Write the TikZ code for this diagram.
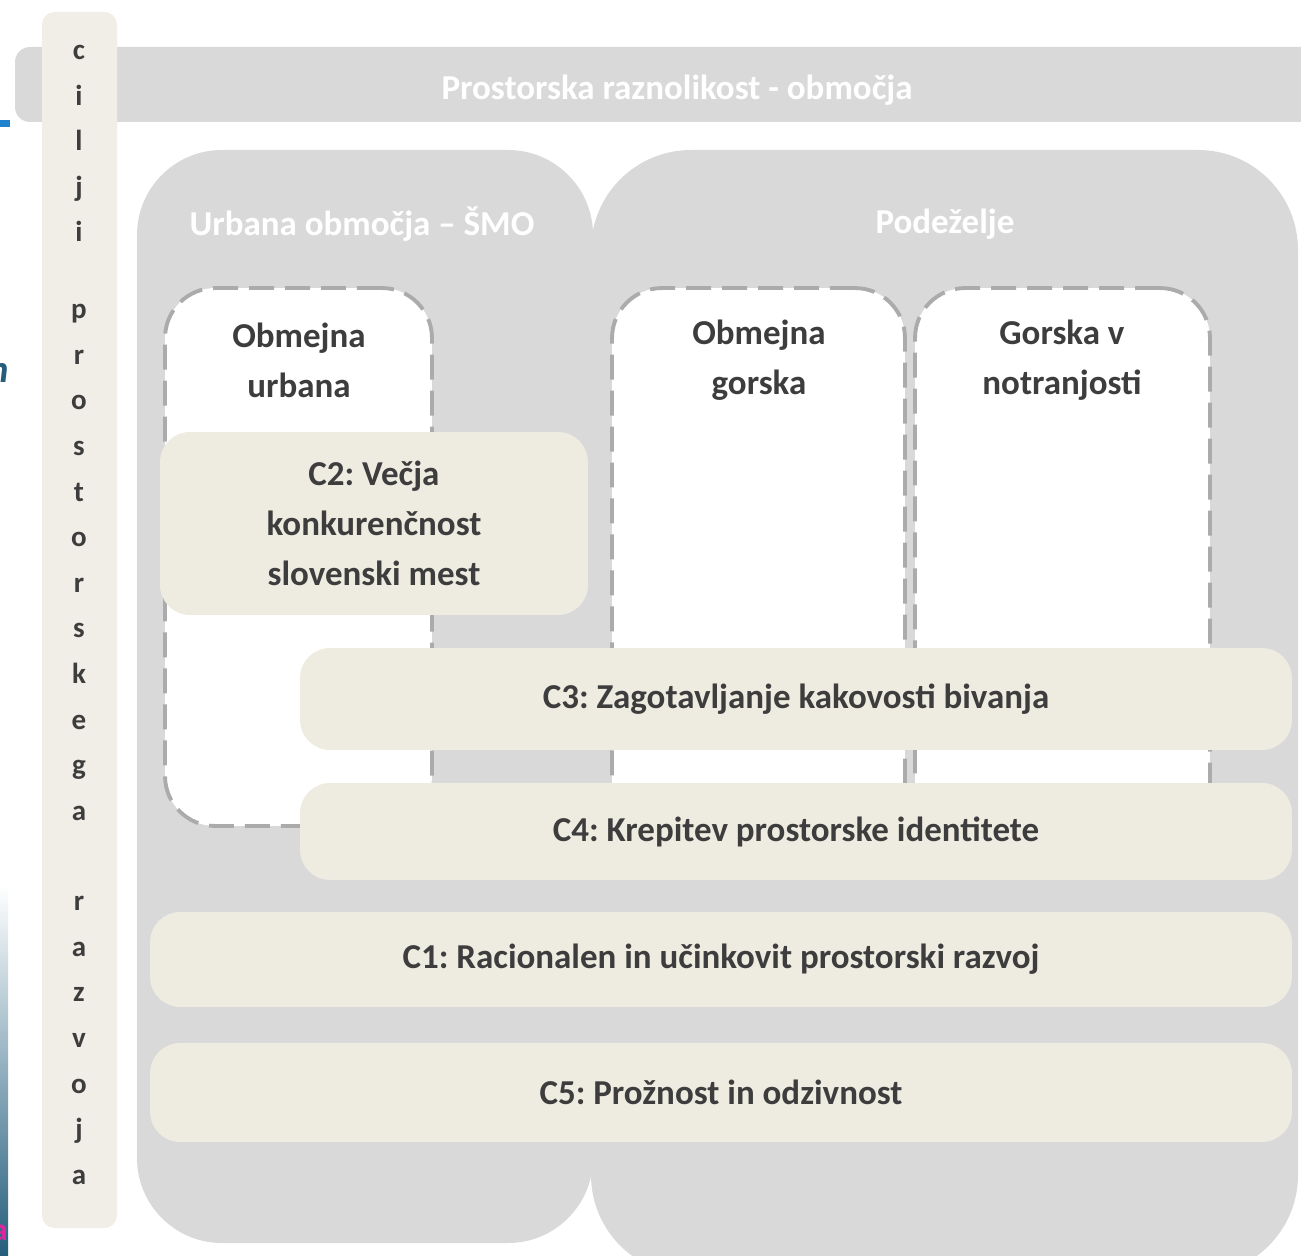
\documentclass[tikz,border=0pt]{standalone}
\usepackage{fontspec}
\setmainfont{Carlito}
\frenchspacing
\usetikzlibrary{positioning}

\definecolor{panelgray}{HTML}{D9D9D9}
\definecolor{goalbeige}{HTML}{EEEBE1}
\definecolor{barbeige}{HTML}{F0EEE6}
\definecolor{dashgray}{HTML}{ABABAB}
\definecolor{textgray}{HTML}{3D3D3D}
\definecolor{edgeblue}{HTML}{1E82CC}
\definecolor{edgeteal}{HTML}{245E7C}
\definecolor{edgepink}{HTML}{E0259E}

\tikzset{
  panel/.style={fill=panelgray},
  goalbox/.style={fill=goalbeige, rounded corners=0.6cm, inner sep=0pt,
    text=textgray, align=center,
    font=\fontsize{19.9pt}{28.5pt}\selectfont\bfseries},
  areabox/.style={fill=white, draw=dashgray, line width=2.2pt,
    dash pattern=on 0.5cm off 0.22cm, rounded corners=1cm, inner sep=0pt},
  areatext/.style={text=textgray, align=center,
    font=\fontsize{19.9pt}{28.5pt}\selectfont\bfseries},
  headtext/.style={text=white, font=\fontsize{19.9pt}{24pt}\selectfont\bfseries},
  vletter/.style={text=textgray, anchor=base,
    font=\fontsize{16.5pt}{16.5pt}\selectfont\bfseries}
}

\begin{document}
\begin{tikzpicture}[x=0.02cm,y=-0.02cm]
  \useasboundingbox (0,0) rectangle (1301,1256);
  \fill[white] (0,0) rectangle (1301,1256);

  % bits of the slide at the left edge
  \fill[edgeblue] (0,120) rectangle (10,127);
  \shade[top color=white, bottom color=edgeteal] (0,885) rectangle (8,1256);
  \node[anchor=base east, text=edgeteal, font=\fontsize{22pt}{22pt}\selectfont\bfseries\itshape, inner sep=0pt] (cutn) at (9,383) {n};
  \node[anchor=base east, text=edgepink, font=\fontsize{18pt}{18pt}\selectfont\bfseries, inner sep=0pt] (cuta) at (8,1240) {a};

  % areas
  \fill[panel, rounded corners=0.3cm] (15,47) rectangle (1330,122);
  \node[headtext] (areas) at (677,90) {Prostorska raznolikost - območja};
  \fill[panel, rounded corners=1.7cm] (137,150) rectangle (593,1243);
  \fill[panel, rounded corners=2cm] (591,150) rectangle (1298,1275);
  \node[headtext] (urban) at (362,224) {Urbana območja – ŠMO};
  \node[headtext] (rural) at (945,224) {Podeželje};

  % vertical bar
  \fill[barbeige, rounded corners=0.25cm] (42,12) rectangle (117,1228);
  \foreach \ch [count=\n] in {c,i,l,j,i}
    \node[vletter] (goal\n) at (79,{14+45.6*\n}) {\ch};
  \foreach \ch [count=\n] in {p,r,o,s,t,o,r,s,k,e,g,a}
    \node[vletter] (space\n) at (79,{273+45.6*\n}) {\ch};
  \foreach \ch [count=\n] in {r,a,z,v,o,j,a}
    \node[vletter] (dev\n) at (79,{865+45.6*\n}) {\ch};

  % dashed areas
  \node[areabox, minimum width=5.34cm, minimum height=10.76cm] (borderurb) at (298.5,557) {};
  \node[areabox, minimum width=5.86cm, minimum height=11.4cm] (bordermnt) at (758.5,573) {};
  \node[areabox, minimum width=5.9cm, minimum height=11.4cm] (innermnt) at (1062.5,573) {};
  \node[areatext] (borderurbtext) at (299,360) {Obmejna\\urbana};
  \node[areatext] (bordermnttext) at (759,360) {Obmejna\\gorska};
  \node[areatext] (innermnttext) at (1062,360) {Gorska v\\notranjosti};

  % goals
  \node[goalbox, minimum width=8.56cm, minimum height=3.66cm] (c2) at (374,523.5) {C2: Večja\\konkurenčnost\\slovenski mest};
  \node[goalbox, minimum width=19.84cm, minimum height=2.04cm] (c3) at (796,699) {C3: Zagotavljanje kakovosti bivanja};
  \node[goalbox, minimum width=19.84cm, minimum height=1.94cm] (c4) at (796,831.5) {C4: Krepitev prostorske identitete};
  \node[goalbox, minimum width=22.84cm, minimum height=1.9cm] (c1) at (721,959.5) {C1: Racionalen in učinkovit prostorski razvoj};
  \node[goalbox, minimum width=22.84cm, minimum height=1.98cm] (c5) at (721,1092.5) {C5: Prožnost in odzivnost};
\end{tikzpicture}
\end{document}
